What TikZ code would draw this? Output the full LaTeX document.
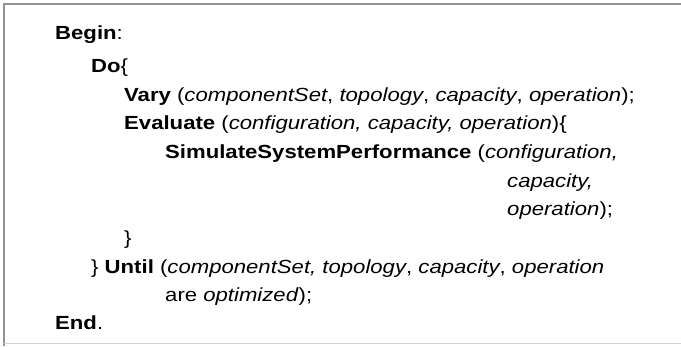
\documentclass[tikz,border=0pt]{standalone}
\usepackage{fontspec}
\setmainfont[FakeStretch=1.165]{Liberation Sans}
\tikzset{
  codeline/.style={anchor=base west, inner sep=0pt, font=\fontsize{19}{22}\selectfont},
}
\newcommand{\kw}[1]{\textbf{#1}}
\newcommand{\prm}[1]{\textit{#1}}
\begin{document}
\begin{tikzpicture}[x=1pt,y=-1pt]
            \useasboundingbox (0,0) rectangle (681,346);
            \fill[white] (0,0) rectangle (681,346);
            % frame
            \draw[line width=1.5pt, gray!85] (4,346) -- (4,4) -- (681,4);
            \draw[line width=1pt, gray!35] (4,343.5) -- (681,343.5);
            % pseudo code
            \node[codeline] (begin) at (55,39) {\kw{Begin}:};
            \node[codeline] (do) at (91,72) {\kw{Do}\{};
            \node[codeline] (vary) at (124,101) {\kw{Vary} (\prm{componentSet}, \prm{topology}, \prm{capacity}, \prm{operation});};
            \node[codeline] (eval) at (124,129.7) {\kw{Evaluate} (\prm{configuration, capacity, operation})\{};
            \node[codeline] (sim) at (165,158.4) {\kw{SimulateSystemPerformance} (\prm{configuration,}};
            \node[codeline] (cap) at (507,187.1) {\prm{capacity,}};
            \node[codeline] (op) at (507,215.8) {\prm{operation});};
            \node[codeline] (close) at (124,244.5) {\}};
            \node[codeline] (until) at (91,273.2) {\} \kw{Until} (\prm{componentSet, topology}, \prm{capacity}, \prm{operation}};
            \node[codeline] (are) at (165,301.9) {are \prm{optimized});};
            \node[codeline] (end) at (55,329) {\kw{End}.};
        \end{tikzpicture}
\end{document}
